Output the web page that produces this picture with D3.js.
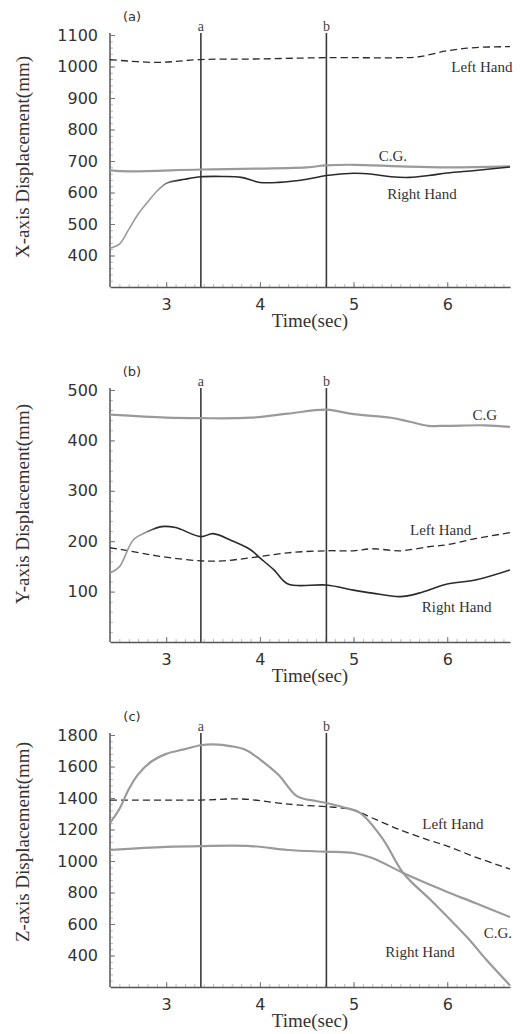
<!DOCTYPE html>
<html lang="en">
<head>
    <meta charset="UTF-8">
    <title>Displacement</title>
    <script type="text/javascript" src="https://cdn.jsdelivr.net/npm/d3@7"></script>
    <style type="text/css">
        body {margin: 0; background: #fff;}
        .tick text {font-family: "DejaVu Sans", sans-serif; font-size: 16px; fill: #333;}
        .axtitle {font-family: "Liberation Serif", serif; font-size: 19px; fill: #333;}
        .serlab {font-family: "Liberation Serif", serif; font-size: 15px; fill: #333;}
    </style>
</head>
<body>
    <script type="text/javascript">

        //Width and height
        var w = 529;
        var h = 1034;

        var xTicks = [3, 4, 5, 6];
        var markers = [{name: 'a', t: 3.37}, {name: 'b', t: 4.71}];

        // (a) X-axis
        var aTicks = [400, 500, 600, 700, 800, 900, 1000, 1100];
        var aLeftT = [2.4, 2.9, 3.37, 4.0, 4.71, 5.5, 5.7, 6.0, 6.3, 6.67];
        var aLeftV = [1022, 1013, 1022, 1024, 1028, 1028, 1031, 1050, 1060, 1063];
        var aCgT = [2.4, 2.6, 3.37, 4.5, 4.7, 5.0, 5.5, 6.0, 6.67];
        var aCgV = [670, 667, 673, 680, 686, 688, 683, 680, 683];
        var aRightT = [2.4, 2.5, 2.6, 2.7, 2.8, 2.9, 3.0, 3.2, 3.37, 3.6, 3.8, 4.0, 4.2, 4.5, 4.71, 5.0, 5.2, 5.4, 5.6, 5.8, 6.0, 6.3, 6.67];
        var aRightV = [423, 436, 483, 531, 569, 604, 629, 642, 650, 651, 648, 632, 632, 642, 654, 661, 658, 650, 648, 654, 662, 670, 681];

        // (b) Y-axis
        var bTicks = [100, 200, 300, 400, 500];
        var bCgT = [2.4, 3.0, 3.37, 3.9, 4.3, 4.71, 5.0, 5.4, 5.6, 5.8, 6.0, 6.4, 6.67];
        var bCgV = [451, 445, 444, 445, 453, 461, 452, 445, 437, 429, 429, 430, 427];
        var bLeftT = [2.4, 2.6, 2.9, 3.37, 3.6, 3.9, 4.3, 4.71, 5.0, 5.2, 5.5, 5.8, 6.0, 6.3, 6.67];
        var bLeftV = [187, 181, 171, 161, 161, 167, 177, 181, 181, 185, 181, 189, 193, 205, 217];
        var bRightT = [2.4, 2.5, 2.65, 2.8, 2.95, 3.1, 3.37, 3.5, 3.7, 3.9, 4.0, 4.15, 4.3, 4.71, 5.0, 5.2, 5.5, 5.7, 6.0, 6.3, 6.67];
        var bRightV = [137, 149, 203, 219, 229, 227, 209, 215, 201, 183, 167, 143, 115, 113, 103, 97, 90, 97, 115, 123, 143];

        // (c) Z-axis
        var cTicks = [400, 600, 800, 1000, 1200, 1400, 1600, 1800];
        var cRightT = [2.4, 2.5, 2.6, 2.7, 2.85, 3.0, 3.2, 3.37, 3.5, 3.7, 3.85, 4.0, 4.2, 4.4, 4.6, 4.71, 4.9, 5.07, 5.32, 5.53, 5.85, 6.21, 6.42, 6.67];
        var cRightV = [1241, 1330, 1455, 1550, 1635, 1680, 1710, 1735, 1740, 1728, 1705, 1645, 1546, 1410, 1381, 1368, 1340, 1305, 1133, 924, 737, 517, 371, 210];
        var cCgT = [2.4, 3.0, 3.37, 3.9, 4.3, 4.71, 5.0, 5.2, 5.53, 5.85, 6.0, 6.3, 6.67];
        var cCgV = [1070, 1090, 1095, 1095, 1070, 1059, 1051, 1019, 924, 841, 803, 733, 644];
        var cLeftT = [2.4, 3.37, 3.8, 4.2, 4.4, 4.71, 5.0, 5.2, 5.5, 5.8, 6.0, 6.3, 6.67];
        var cLeftV = [1387, 1387, 1394, 1368, 1356, 1345, 1324, 1273, 1197, 1133, 1095, 1025, 949];

        function zip(ts, vs) { return ts.map(function(t, i) { return [t, vs[i]]; }); }

        var panels = [
            {tag: '(a)', title: 'X-axis Displacement(mm)', top: 35, titleY: 157,
             dom: [300, 1100], ticks: aTicks, minor: 20,
             series: [
                {name: 'Left Hand', pts: zip(aLeftT, aLeftV), style: 'dash', lab: [6.37, 983]},
                {name: 'C.G.', pts: zip(aCgT, aCgV), style: 'gray', lab: [5.42, 699]},
                {name: 'Right Hand', pts: zip(aRightT, aRightV), style: 'fade', fadeAt: 3.15, lab: [5.73, 578]}
             ]},
            {tag: '(b)', title: 'Y-axis Displacement(mm)', top: 390, titleY: 504,
             dom: [0, 500], ticks: bTicks, minor: 20,
             series: [
                {name: 'C.G', pts: zip(bCgT, bCgV), style: 'gray', lab: [6.40, 441]},
                {name: 'Left Hand', pts: zip(bLeftT, bLeftV), style: 'dash', lab: [5.93, 213]},
                {name: 'Right Hand', pts: zip(bRightT, bRightV), style: 'fade', fadeAt: 2.9, lab: [6.10, 60]}
             ]},
            {tag: '(c)', title: 'Z-axis Displacement(mm)', top: 735, titleY: 842,
             dom: [200, 1800], ticks: cTicks, minor: 40,
             series: [
                {name: 'Left Hand', pts: zip(cLeftT, cLeftV), style: 'dash', lab: [6.06, 1203]},
                {name: 'C.G.', pts: zip(cCgT, cCgV), style: 'gray', lab: [6.54, 511]},
                {name: 'Right Hand', pts: zip(cRightT, cRightV), style: 'gray', lab: [5.71, 390]}
             ]}
        ];

        var plotH = 252;
        var x = d3.scaleLinear().domain([2.4, 6.67]).range([110, 510]);

        //Create SVG element
        var svg = d3.select("body")
            .append("svg")
            .attr("width", w)
            .attr("height", h);

        var defs = svg.append("defs");

        panels.forEach(function(p, pi) {
            var bottom = p.top + plotH;
            var y = d3.scaleLinear().domain(p.dom).range([bottom, p.top]);
            var g = svg.append("g");

            // minor ticks
            var minorX = d3.range(2.5, 6.7, 0.1);
            g.append("g")
                .attr("transform", "translate(0," + bottom + ")")
                .call(d3.axisBottom(x).tickValues(minorX).tickSize(-3).tickFormat(""))
                .call(function(s) { s.select(".domain").remove(); s.selectAll("line").attr("stroke", "#bbb"); });
            var minorY = d3.range(p.dom[0] + p.minor, p.dom[1] + 1, p.minor);
            g.append("g")
                .attr("transform", "translate(110,0)")
                .call(d3.axisLeft(y).tickValues(minorY).tickSize(-3).tickFormat(""))
                .call(function(s) { s.select(".domain").remove(); s.selectAll("line").attr("stroke", "#bbb"); });

            // major axes
            g.append("g")
                .attr("transform", "translate(0," + bottom + ")")
                .call(d3.axisBottom(x).tickValues(xTicks).tickFormat(d3.format("d")).tickSize(-5).tickPadding(12).tickSizeOuter(0))
                .call(function(s) {
                    s.select(".domain").attr("stroke", "#555").attr("stroke-width", 1.5);
                    s.selectAll("line").attr("stroke", "#777");
                });
            g.append("g")
                .attr("transform", "translate(110,0)")
                .call(d3.axisLeft(y).tickValues(p.ticks).tickFormat(d3.format("d")).tickSize(-5).tickPadding(12).tickSizeOuter(0))
                .call(function(s) {
                    s.select(".domain").attr("stroke", "#555").attr("stroke-width", 1.5)
                        .attr("d", "M0," + bottom + "V" + (p.top - 2));
                    s.selectAll("line").attr("stroke", "#777");
                });

            // marker lines
            g.selectAll(".marker")
                .data(markers)
                .enter()
                .append("line")
                .attr("x1", function(d) { return x(d.t); })
                .attr("x2", function(d) { return x(d.t); })
                .attr("y1", p.top - 2)
                .attr("y2", bottom)
                .attr("stroke", "#3a3a3a")
                .attr("stroke-width", 1.6);
            g.selectAll(".mlab")
                .data(markers)
                .enter()
                .append("text")
                .text(function(d) { return d.name; })
                .attr("x", function(d) { return x(d.t); })
                .attr("y", p.top - 4)
                .attr("text-anchor", "middle")
                .attr("font-family", "Liberation Serif, serif")
                .attr("font-size", "14px")
                .attr("fill", "#444");

            // series
            var line = d3.line()
                .x(function(d) { return x(d[0]); })
                .y(function(d) { return y(d[1]); })
                .curve(d3.curveCatmullRom.alpha(0.5));

            p.series.forEach(function(s, si) {
                var path = g.append("path")
                    .datum(s.pts)
                    .attr("d", line)
                    .attr("fill", "none");
                if (s.style == 'dash') {
                    path.attr("stroke", "#2a2a2a").attr("stroke-width", 1.3).attr("stroke-dasharray", "7,4");
                } else if (s.style == 'gray') {
                    path.attr("stroke", "#9a9a9a").attr("stroke-width", 2.2);
                } else {
                    var id = "fade" + pi;
                    var grad = defs.append("linearGradient")
                        .attr("id", id)
                        .attr("gradientUnits", "userSpaceOnUse")
                        .attr("x1", x(2.4)).attr("x2", x(6.67))
                        .attr("y1", 0).attr("y2", 0);
                    var f = (x(s.fadeAt) - x(2.4)) / (x(6.67) - x(2.4));
                    grad.append("stop").attr("offset", 0).attr("stop-color", "#9a9a9a");
                    grad.append("stop").attr("offset", f * 0.7).attr("stop-color", "#9a9a9a");
                    grad.append("stop").attr("offset", f).attr("stop-color", "#2a2a2a");
                    grad.append("stop").attr("offset", 1).attr("stop-color", "#2a2a2a");
                    path.attr("stroke", "url(#" + id + ")").attr("stroke-width", 1.6);
                }
                g.append("text")
                    .attr("class", "serlab")
                    .text(s.name)
                    .attr("x", x(s.lab[0]))
                    .attr("y", y(s.lab[1]))
                    .attr("text-anchor", "middle");
            });

            // titles
            g.append("text")
                .text(p.tag)
                .attr("x", 132)
                .attr("y", p.top - 14)
                .attr("text-anchor", "middle")
                .attr("font-family", "DejaVu Sans, sans-serif")
                .attr("font-size", "13px")
                .attr("fill", "#333");
            g.append("text")
                .attr("class", "axtitle")
                .text("Time(sec)")
                .attr("x", 310)
                .attr("y", bottom + 40)
                .attr("text-anchor", "middle");
            g.append("text")
                .attr("class", "axtitle")
                .text(p.title)
                .attr("transform", "translate(29," + p.titleY + ") rotate(-90)")
                .attr("text-anchor", "middle");
        });

    </script>
</body>
</html>
